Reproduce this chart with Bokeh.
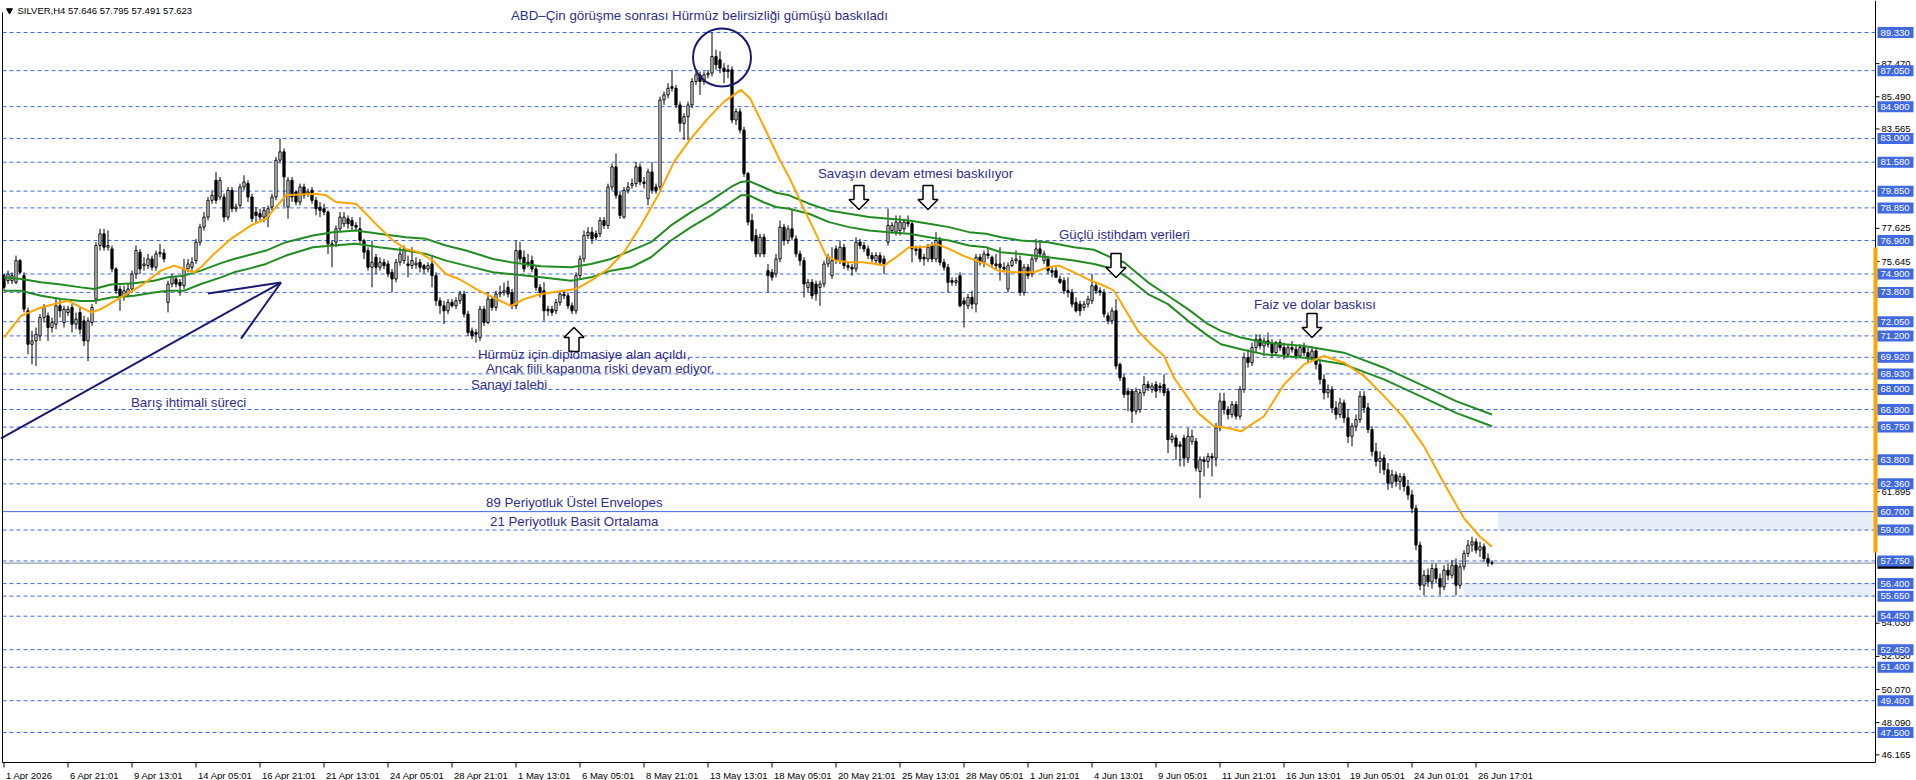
from bokeh.plotting import figure
from bokeh.models import Range1d
from bokeh.core.properties import value
from bokeh.embed import file_html
from bokeh.resources import INLINE

# ---------------- data ----------------
opens = [
 74.8, 74.5, 74.5, 74.4, 75.7, 74.8, 72.7, 70.7, 70.9, 71.2,
 72.3, 72.4, 71.7, 71.9, 73.0, 72.0, 72.6, 72.9, 71.9, 72.6,
 72.1, 70.9, 72.0, 73.4, 76.6, 77.3, 76.5, 76.4, 75.2, 74.0,
 73.6, 73.7, 74.0, 74.9, 76.2, 75.4, 75.4, 75.8, 75.3, 76.1,
 76.15, 73.2, 74.3, 74.6, 74.4, 74.2, 75.2, 75.3, 75.7, 76.8,
 77.7, 78.3, 79.3, 80.5, 79.5, 79.5, 78.3, 79.9, 78.8, 79.0,
 80.1, 80.3, 79.5, 78.6, 78.5, 78.3, 78.3, 78.9, 79.5, 81.7,
 82.2, 78.9, 80.5, 79.8, 79.2, 80.1, 79.7, 79.9, 79.3, 78.9,
 78.8, 78.6, 76.7, 76.8, 77.6, 77.9, 78.2, 78.1, 77.8, 77.6,
 76.9, 76.3, 75.3, 75.9, 75.3, 75.6, 75.5, 75.0, 74.6, 75.6,
 75.7, 75.5, 75.4, 75.45, 75.6, 75.4, 75.2, 75.5, 74.8, 73.3,
 73.0, 72.7, 73.2, 73.0, 73.3, 73.7, 72.5, 71.5, 71.4, 71.1,
 72.8, 72.0, 73.4, 72.9, 73.7, 73.8, 74.1, 73.8, 73.0, 76.3,
 75.9, 75.6, 75.7, 75.2, 74.1, 73.9, 72.8, 72.8, 72.7, 73.2,
 73.7, 73.6, 73.0, 72.7, 74.8, 75.8, 77.2, 77.4, 77.3, 77.3,
 78.1, 77.8, 80.1, 81.3, 79.6, 78.3, 79.9, 80.2, 80.3, 81.3,
 80.4, 79.4, 81.0, 80.1, 80.1, 85.3, 85.6, 86.1, 86.0, 85.0,
 83.9, 84.3, 85.0, 86.4, 86.8, 86.4, 86.8, 86.9, 87.9, 87.7,
 87.2, 87.1, 87.1, 84.1, 84.6, 83.5, 80.9, 78.1, 77.2, 76.1,
 77.1, 75.1, 75.0, 74.9, 75.8, 77.7, 76.9, 77.6, 77.0, 76.1,
 75.7, 74.1, 74.4, 74.3, 74.1, 74.3, 75.5, 74.8, 76.4, 75.7,
 76.5, 75.4, 75.3, 75.2, 76.8, 76.6, 76.4, 76.0, 75.7, 76.0,
 75.8, 76.8, 77.5, 77.4, 77.5, 77.6, 78.0, 77.9, 76.4, 76.4,
 75.9, 75.8, 76.6, 75.8, 76.9, 75.6, 75.3, 74.5, 74.4, 74.8,
 73.3, 73.0, 73.5, 73.1, 75.9, 75.6, 76.1, 75.9, 75.5, 75.5,
 75.3, 74.0, 75.4, 75.7, 75.7, 73.8, 75.3, 74.9, 75.8, 76.4,
 75.7, 75.8, 75.1, 75.1, 74.6, 74.5, 73.9, 73.8, 73.2, 73.1,
 72.9, 73.1, 73.3, 74.2, 73.9, 73.8, 72.4, 72.1, 72.7, 69.5,
 68.7, 67.9, 67.9, 66.7, 66.8, 67.8, 68.3, 68.0, 68.3, 68.2,
 68.3, 67.9, 65.0, 65.1, 64.7, 65.1, 63.9, 64.9, 64.9, 63.1,
 63.8, 63.7, 64.0, 63.9, 65.7, 67.3, 66.8, 66.5, 67.1, 66.4,
 68.0, 69.9, 69.6, 70.5, 71.0, 70.6, 70.9, 70.7, 70.2, 70.8,
 70.5, 70.1, 70.5, 70.4, 70.0, 70.5, 70.2, 69.9, 70.3, 69.5,
 68.6, 67.8, 68.0, 66.9, 66.5, 67.2, 66.3, 65.2, 65.8, 66.2,
 67.6, 66.9, 65.6, 64.3, 63.7, 63.9, 63.2, 62.4, 62.9, 62.5,
 62.8, 62.2, 61.7, 60.9, 58.7, 56.3, 56.9, 56.5, 57.3, 56.7,
 56.2, 57.2, 56.9, 57.5, 56.3, 57.4, 58.2, 58.7, 58.9, 58.4,
 58.6, 57.9, 57.646]
highs = [
 74.9, 75.1, 75.0, 76.0, 75.8, 75.0, 72.9, 71.5, 71.7, 72.5,
 73.1, 72.6, 72.3, 73.5, 73.4, 73.0, 73.0, 73.1, 72.6, 72.9,
 72.4, 72.3, 73.1, 76.8, 77.6, 77.6, 77.5, 76.6, 75.3, 74.2,
 74.2, 74.3, 75.1, 76.6, 76.4, 75.9, 76.1, 76.0, 76.3, 76.7,
 76.4, 74.5, 74.9, 74.8, 74.6, 75.8, 75.8, 75.9, 77.0, 77.9,
 78.6, 79.5, 79.9, 81.0, 80.7, 79.7, 80.1, 80.1, 79.1, 80.3,
 80.8, 80.5, 79.7, 78.9, 78.8, 78.9, 79.0, 79.7, 81.9, 83.0,
 82.4, 80.7, 80.7, 79.9, 80.3, 80.3, 80.0, 80.1, 79.5, 79.2,
 79.1, 78.7, 76.9, 77.8, 78.6, 78.6, 78.4, 78.3, 78.0, 78.3,
 77.0, 76.5, 76.9, 76.1, 75.9, 75.8, 75.7, 75.2, 75.8, 76.5,
 76.6, 76.0, 76.5, 75.9, 75.8, 75.5, 75.6, 76.0, 75.0, 73.5,
 73.3, 73.4, 73.4, 73.5, 73.9, 73.9, 72.7, 71.7, 71.6, 73.0,
 73.0, 73.8, 73.6, 73.9, 74.2, 74.4, 74.5, 74.0, 76.9, 76.8,
 76.3, 76.1, 76.0, 75.4, 74.3, 74.4, 73.0, 73.0, 73.4, 73.9,
 73.9, 73.8, 73.2, 75.0, 76.0, 77.5, 77.7, 77.7, 77.5, 78.3,
 78.3, 80.3, 81.5, 82.1, 79.8, 80.1, 80.4, 80.6, 81.6, 81.5,
 80.7, 81.2, 81.6, 80.3, 85.5, 85.8, 86.3, 87.1, 86.2, 85.2,
 84.5, 85.2, 86.6, 87.1, 87.0, 87.0, 87.1, 89.33, 88.3, 88.2,
 87.5, 87.4, 87.3, 84.8, 84.8, 83.7, 81.0, 78.5, 77.6, 77.3,
 77.3, 75.5, 75.2, 76.1, 78.1, 77.9, 77.8, 78.8, 77.2, 76.3,
 75.9, 74.6, 74.6, 74.5, 74.5, 75.7, 76.1, 76.5, 76.6, 76.9,
 76.7, 75.6, 75.5, 77.1, 77.0, 76.8, 76.6, 76.2, 76.2, 76.2,
 76.0, 78.8, 78.0, 78.4, 78.4, 78.2, 78.4, 78.1, 76.6, 76.6,
 76.1, 76.7, 76.8, 77.4, 77.1, 75.8, 75.5, 74.7, 74.7, 75.0,
 73.5, 73.7, 73.9, 76.1, 76.1, 76.3, 76.5, 76.0, 76.1, 76.5,
 75.6, 75.6, 75.9, 76.3, 76.0, 75.5, 75.5, 76.0, 77.0, 76.9,
 76.3, 76.0, 75.3, 75.3, 74.8, 74.7, 74.7, 74.0, 73.5, 73.3,
 73.3, 73.6, 74.9, 74.4, 74.1, 74.0, 72.6, 72.9, 73.4, 69.6,
 68.9, 68.1, 68.0, 68.1, 68.0, 68.8, 68.5, 68.4, 68.5, 68.4,
 68.9, 68.1, 65.4, 65.3, 64.9, 65.3, 65.7, 65.6, 65.1, 64.0,
 64.0, 64.2, 64.2, 66.0, 67.8, 67.8, 67.0, 67.3, 67.3, 68.2,
 70.2, 70.4, 70.8, 71.3, 71.3, 71.1, 71.4, 71.0, 70.9, 71.0,
 70.8, 70.7, 70.9, 70.6, 70.7, 70.8, 70.5, 70.6, 70.5, 69.8,
 68.9, 68.3, 68.2, 67.3, 67.5, 67.4, 66.8, 66.0, 66.5, 67.9,
 67.9, 67.2, 65.8, 64.8, 64.3, 64.1, 63.6, 63.2, 63.1, 63.0,
 63.0, 62.6, 62.0, 61.1, 58.9, 57.2, 57.3, 57.6, 57.6, 57.0,
 57.5, 57.6, 57.8, 57.9, 57.6, 58.4, 59.0, 59.2, 59.1, 58.9,
 58.8, 58.2, 57.795]
lows = [
 73.9, 74.3, 74.3, 74.3, 74.9, 72.6, 70.1, 69.5, 69.4, 70.9,
 72.0, 70.9, 71.4, 71.6, 72.3, 71.7, 72.4, 71.4, 71.6, 71.3,
 70.6, 69.7, 71.8, 73.1, 76.3, 76.3, 76.3, 75.0, 73.7, 72.7,
 73.3, 73.5, 73.8, 74.6, 74.9, 75.1, 75.2, 75.1, 75.1, 75.9,
 75.6, 72.6, 74.1, 74.1, 73.6, 74.0, 75.0, 75.1, 75.5, 76.6,
 77.5, 78.1, 79.1, 79.1, 79.3, 78.0, 78.1, 78.6, 78.6, 78.8,
 79.9, 79.2, 78.0, 77.9, 78.1, 78.0, 77.7, 78.7, 79.3, 81.5,
 78.9, 78.2, 79.2, 79.0, 79.0, 79.4, 79.5, 79.1, 78.4, 78.3,
 78.4, 76.1, 75.3, 76.5, 77.4, 77.7, 77.6, 77.5, 77.5, 76.7,
 75.8, 75.1, 74.1, 74.9, 75.1, 75.2, 74.7, 73.8, 74.4, 75.4,
 75.5, 74.7, 75.2, 75.2, 75.0, 74.9, 75.0, 74.1, 73.0, 72.5,
 71.9, 72.5, 72.9, 72.8, 73.1, 72.3, 71.2, 71.0, 70.8, 70.9,
 71.8, 71.9, 72.7, 72.7, 73.5, 73.6, 73.5, 72.8, 72.8, 75.6,
 75.0, 75.3, 75.0, 73.9, 73.5, 72.1, 72.4, 72.4, 72.5, 73.0,
 73.4, 72.8, 72.5, 72.5, 74.6, 75.6, 77.0, 76.7, 76.9, 77.1,
 77.6, 77.6, 79.9, 79.4, 78.2, 78.2, 79.7, 80.0, 80.1, 80.2,
 80.0, 79.0, 79.7, 79.7, 79.9, 85.0, 85.4, 85.8, 84.8, 83.4,
 82.9, 82.9, 84.8, 86.2, 85.6, 86.2, 86.6, 86.7, 87.1, 86.9,
 86.3, 86.6, 83.9, 83.8, 83.3, 80.7, 77.8, 76.8, 75.9, 75.9,
 75.9, 73.8, 74.5, 74.7, 75.6, 76.6, 76.7, 76.9, 75.9, 75.4,
 73.5, 73.8, 73.4, 73.3, 73.0, 74.1, 75.3, 74.6, 75.5, 75.5,
 75.2, 75.1, 74.8, 75.0, 76.4, 76.2, 75.8, 75.6, 75.5, 75.4,
 74.9, 76.6, 77.3, 77.2, 77.2, 77.4, 77.7, 75.6, 76.0, 75.6,
 75.4, 75.6, 75.6, 75.6, 75.4, 75.1, 73.8, 74.2, 74.2, 72.9,
 71.7, 72.8, 72.8, 72.6, 75.4, 75.3, 75.8, 75.3, 75.2, 74.5,
 75.0, 73.8, 75.3, 75.5, 73.6, 73.6, 74.6, 74.7, 75.6, 75.9,
 75.5, 74.9, 74.7, 74.7, 74.3, 73.7, 73.5, 72.9, 72.6, 72.4,
 72.7, 72.9, 73.1, 73.7, 73.6, 72.3, 71.9, 71.9, 69.2, 68.5,
 67.5, 66.7, 66.0, 66.5, 66.6, 67.6, 67.9, 67.8, 67.5, 67.8,
 67.6, 64.2, 64.8, 63.8, 63.4, 63.4, 63.6, 64.7, 63.1, 61.5,
 62.8, 63.3, 62.8, 63.4, 65.5, 66.5, 66.2, 66.3, 66.2, 66.2,
 67.8, 69.3, 69.4, 70.2, 70.4, 70.0, 70.5, 69.9, 70.0, 70.3,
 69.8, 69.9, 70.2, 69.8, 69.9, 70.0, 69.6, 69.7, 69.2, 68.3,
 67.4, 67.5, 66.6, 66.2, 66.3, 66.0, 64.8, 64.6, 65.5, 66.0,
 66.6, 65.4, 64.0, 63.4, 63.0, 62.9, 62.0, 62.1, 62.2, 62.0,
 61.9, 61.4, 60.6, 58.4, 56.0, 55.7, 56.2, 56.1, 56.4, 55.7,
 56.0, 56.6, 56.7, 55.7, 56.1, 57.2, 58.0, 58.3, 58.2, 58.0,
 57.7, 57.4, 57.491]
closes = [
 74.1, 74.9, 74.8, 75.7, 75.0, 72.8, 70.7, 70.9, 71.3, 72.3,
 72.9, 71.7, 72.0, 73.0, 72.7, 72.8, 72.8, 71.9, 72.2, 71.6,
 70.9, 72.1, 72.9, 76.6, 77.3, 76.5, 76.6, 75.2, 73.9, 73.6,
 73.9, 74.0, 74.9, 76.3, 75.2, 75.5, 75.8, 75.3, 76.1, 76.2,
 75.8, 74.3, 74.7, 74.3, 74.2, 75.2, 75.5, 75.6, 76.8, 77.7,
 78.3, 79.3, 79.6, 79.3, 80.5, 78.3, 79.9, 78.8, 78.9, 80.1,
 80.4, 79.5, 78.2, 78.4, 78.3, 78.7, 78.8, 79.5, 81.7, 82.2,
 80.7, 80.5, 79.5, 79.2, 80.1, 79.6, 79.8, 79.3, 78.8, 78.7,
 78.6, 76.7, 76.6, 77.6, 78.3, 78.3, 77.9, 77.8, 77.7, 76.9,
 76.2, 75.3, 75.6, 75.3, 75.6, 75.4, 74.9, 74.6, 75.6, 76.1,
 76.4, 75.4, 75.7, 75.55, 75.3, 75.2, 75.4, 74.8, 73.3, 73.0,
 72.7, 73.2, 73.0, 73.3, 73.7, 72.5, 71.4, 71.2, 71.3, 72.8,
 72.0, 73.4, 72.9, 73.7, 73.8, 73.9, 73.7, 73.0, 76.3, 75.8,
 75.2, 75.5, 75.2, 74.1, 73.8, 72.7, 72.7, 72.6, 73.2, 73.7,
 73.6, 73.0, 72.7, 74.8, 75.8, 77.2, 77.4, 77.0, 77.1, 78.1,
 77.8, 80.1, 81.3, 79.6, 78.4, 79.9, 80.1, 80.3, 81.3, 80.4,
 80.3, 81.0, 79.9, 79.9, 85.3, 85.6, 86.0, 86.0, 85.0, 83.9,
 84.3, 85.0, 86.4, 86.8, 86.4, 86.8, 86.9, 87.9, 87.4, 87.2,
 87.0, 87.0, 84.1, 84.6, 83.5, 80.9, 78.0, 76.9, 76.1, 77.1,
 76.1, 74.8, 74.7, 75.8, 77.7, 76.9, 77.6, 77.1, 76.1, 75.7,
 74.3, 74.4, 73.6, 73.7, 74.3, 75.5, 75.9, 75.7, 75.7, 76.5,
 75.4, 75.3, 75.2, 76.8, 76.6, 76.4, 76.0, 75.8, 76.0, 75.6,
 75.5, 77.8, 77.8, 78.0, 78.0, 78.0, 77.9, 76.4, 76.3, 75.8,
 75.8, 76.5, 75.8, 76.9, 75.6, 75.3, 74.4, 74.4, 74.5, 73.0,
 73.1, 73.5, 73.1, 75.9, 75.6, 76.1, 76.0, 75.5, 75.4, 75.3,
 75.2, 75.4, 75.7, 75.8, 73.8, 75.3, 74.8, 75.8, 76.4, 76.1,
 76.1, 75.1, 75.0, 74.7, 74.4, 73.9, 73.8, 73.1, 72.7, 72.7,
 73.1, 73.4, 74.2, 73.9, 73.8, 72.5, 72.1, 72.7, 69.4, 68.7,
 67.7, 67.7, 66.7, 67.9, 67.8, 68.3, 68.1, 68.2, 67.9, 68.1,
 67.8, 65.0, 65.2, 64.6, 64.6, 63.9, 65.2, 65.2, 63.3, 63.8,
 63.7, 64.0, 63.9, 65.7, 67.3, 66.8, 66.5, 67.1, 66.4, 68.0,
 69.9, 69.6, 70.5, 71.0, 70.6, 70.9, 70.7, 70.2, 70.8, 70.5,
 70.1, 70.5, 70.4, 70.0, 70.5, 70.2, 69.9, 70.3, 69.5, 68.6,
 67.8, 68.0, 66.9, 66.5, 67.2, 66.3, 65.2, 65.8, 66.2, 67.6,
 66.9, 65.6, 64.3, 63.7, 63.9, 63.2, 62.4, 62.9, 62.5, 62.8,
 62.2, 61.7, 60.9, 58.7, 56.3, 56.9, 56.5, 57.3, 56.7, 56.2,
 57.2, 56.9, 57.5, 56.3, 57.4, 58.2, 58.7, 58.9, 58.4, 58.6,
 57.9, 57.65, 57.623]

# 21-period simple moving average (orange), sampled along the bars
sma_bars = [0, 4.25, 9.25, 14.25, 16, 19.25, 21.75, 24.25, 29.25, 34.25, 39.25, 42.5, 47.5, 49.25,
            52.5, 56.75, 61.75, 65.5, 68, 70.5, 78, 80.5, 83, 88, 90.5, 93.75, 97.25, 100.5, 103.75,
            107.25, 110.5, 113.75, 118.75, 122.25, 126.75, 130, 134.25, 138.5, 143, 146.75, 151, 155,
            159.25, 163.5, 167.5, 171.75, 176, 180, 184.25, 186.5, 190, 193.75, 196.25, 199.75, 203,
            205.5, 208, 211.25, 214.75, 218, 220, 223, 226.25, 229.75, 233, 236.25, 239.75, 243, 245.5,
            248.5, 252.5, 257.5, 261, 263.75, 267.5, 271.75, 275, 277.5, 280, 283.5, 286.75, 290, 292.5,
            296, 298.5, 302.5, 306, 309.25, 315, 320, 325, 330, 335, 340, 345, 350, 355, 360, 365, 369, 372]
sma_vals = [71.1, 72.4, 72.9, 73.2, 73.3, 72.9, 72.6, 72.8, 73.5, 74.2, 75.1, 75.4, 75.0, 75.3,
            76.1, 77.0, 77.8, 78.2, 78.9, 79.6, 79.7, 79.6, 79.2, 79.1, 78.5, 77.7, 76.9, 76.4, 76.2,
            75.7, 74.9, 74.6, 73.9, 73.5, 73.0, 73.4, 73.7, 73.85, 74.0, 74.5, 75.2, 76.2,
            77.8, 79.6, 81.6, 83.0, 84.2, 85.2, 85.9, 85.4, 83.7, 81.8, 80.7, 78.9, 77.3,
            76.0, 75.7, 75.6, 75.6, 75.5, 75.4, 75.9, 76.5, 76.5, 76.7, 76.4, 76.0, 75.7, 75.5,
            75.1, 75.0, 75.0, 75.3, 75.4, 75.0, 74.5, 74.2, 73.9, 72.9, 71.5, 70.7, 70.0, 68.7,
            67.5, 66.6, 65.8, 65.7, 65.5, 66.4, 68.3, 69.5, 70.0, 69.6, 68.8, 67.6, 66.3, 64.6, 62.4, 60.3, 59.2, 58.6]

# 89-period exponential envelopes (green), upper and lower bands
env_up_bars = [0, 4.25, 9.25, 14.25, 19.25, 22.5, 26.75, 32.5, 37.5, 41, 45, 49.25, 54.25, 57.5, 61.75,
               65.5, 70.5, 77.25, 82.25, 88, 93.75, 100.5, 105.5, 110.5, 115.5, 122.25, 126.75, 134.25,
               141.75, 146.75, 151.75, 156.75, 161.75, 166.75, 171.75, 176.75, 181.75, 184.25, 186.25,
               189.75, 193, 196.25, 201.25, 206.25, 211.25, 216.25, 221.25, 226.25, 231.25, 236.25, 241.25,
               245.5, 249.25, 254.25, 261, 267.5, 272.5, 277.5, 280, 286, 291, 296, 301, 304.25, 309.25,
               315, 325, 335, 345, 355, 363, 372]
env_up_vals = [74.7, 74.6, 74.4, 74.27, 74.1, 74.0, 74.27, 74.35, 74.5, 74.7, 74.8, 75.1, 75.55, 75.8, 76.06,
               76.3, 76.8, 77.2, 77.4, 77.5, 77.3, 77.1, 77.0, 76.6, 76.3, 75.8, 75.6, 75.36,
               75.3, 75.5, 75.8, 76.3, 76.8, 77.8, 78.6, 79.3, 80.1, 80.4, 80.45,
               80.1, 79.75, 79.6, 79.1, 78.7, 78.5, 78.3, 78.2, 78.1, 77.9, 77.7, 77.4,
               77.3, 77.1, 76.9, 76.8, 76.5, 76.35, 75.8, 75.6, 74.4, 73.6, 72.8, 71.9, 71.5, 71.1,
               70.8, 70.6, 70.2, 69.3, 68.2, 67.3, 66.5]
env_lo_bars = [0, 4.25, 9.25, 14.25, 19.25, 22.5, 26.75, 32.5, 37.5, 41, 45, 49.25, 54.25, 57.5, 61.75,
               65.5, 70.5, 77.25, 82.25, 88, 93.75, 100.5, 105.5, 110.5, 115.5, 122.25, 126.75, 134.25,
               141.75, 146.75, 151.75, 156.75, 161.75, 166.75, 171.75, 176.75, 181.75, 184.25, 186.25,
               189.75, 193, 196.25, 201.25, 206.25, 211.25, 216.25, 221.25, 226.25, 231.25, 236.25, 241.25,
               245.5, 249.25, 254.25, 261, 267.5, 272.5, 277.5, 280.75, 286, 291, 296, 301, 304.25, 309.25,
               315, 325, 335, 345, 355, 363, 372]
env_lo_vals = [73.9, 73.9, 73.6, 73.4, 73.28, 73.28, 73.5, 73.6, 73.8, 73.9, 73.9, 74.3, 74.7, 75.0, 75.25,
               75.5, 76.0, 76.5, 76.6, 76.7, 76.5, 76.3, 76.1, 75.7, 75.4, 75.0, 74.9, 74.7,
               74.5, 74.7, 75.1, 75.3, 75.9, 76.9, 77.7, 78.4, 79.2, 79.6, 79.6,
               79.2, 78.9, 78.8, 78.5, 78.0, 77.7, 77.5, 77.4, 77.3, 77.1, 76.9, 76.6,
               76.5, 76.2, 76.1, 75.9, 75.7, 75.5, 75.2, 74.7, 73.7, 73.1, 72.1, 71.2, 70.7, 70.4,
               70.1, 69.9, 69.5, 68.6, 67.5, 66.6, 65.8]

# horizontal price levels with their labels on the price scale
level_prices = [89.33, 87.05, 84.90, 83.00, 81.58, 79.85, 78.85, 76.90, 74.90, 73.80, 72.05, 71.20,
                69.92, 68.93, 68.00, 66.80, 65.75, 63.80, 62.36, 60.70, 59.60, 57.75, 56.40, 55.65,
                54.45, 52.45, 51.40, 49.40, 47.50]
level_labels = ["89.330", "87.050", "84.900", "83.000", "81.580", "79.850", "78.850", "76.900", "74.900",
                "73.800", "72.050", "71.200", "69.920", "68.930", "68.000", "66.800", "65.750", "63.800",
                "62.360", "60.700", "59.600", "57.750", "56.400", "55.650", "54.450", "52.450", "51.400",
                "49.400", "47.500"]
solid_level = 60.70
bid_price = 57.623
zone_tops = [60.70, 56.40]
zone_bottoms = [59.60, 55.65]
zone_start_bars = [373.5, 365.0]
range_marker = [76.48, 58.26]

price_ticks = [87.470, 85.490, 83.565, 77.625, 75.645, 61.895, 54.030, 52.050, 50.070, 48.090, 46.165]
price_tick_labels = ["87.470", "85.490", "83.565", "77.625", "75.645", "61.895", "54.030", "52.050",
                     "50.070", "48.090", "46.165"]

time_bars = [16 * k for k in range(24)]
time_labels = ["1 Apr 2026", "6 Apr 21:01", "9 Apr 13:01", "14 Apr 05:01", "16 Apr 21:01", "21 Apr 13:01",
               "24 Apr 05:01", "28 Apr 21:01", "1 May 13:01", "6 May 05:01", "8 May 21:01", "13 May 13:01",
               "18 May 05:01", "20 May 21:01", "25 May 13:01", "28 May 05:01", "1 Jun 21:01", "4 Jun 13:01",
               "9 Jun 05:01", "11 Jun 21:01", "16 Jun 13:01", "19 Jun 05:01", "24 Jun 01:01", "26 Jun 17:01"]

header_text = "SILVER,H4  57.646 57.795 57.491 57.623"

note_texts = ["ABD\u2013Çin görüşme sonrası Hürmüz belirsizliği gümüşü baskıladı",
              "Savaşın devam etmesi baskılıyor",
              "Güçlü istihdam verileri",
              "Faiz ve dolar baskısı",
              "Hürmüz için diplomasiye alan açıldı,",
              "Ancak fiili kapanma riski devam ediyor.",
              "Sanayi talebi",
              "Barış ihtimali süreci",
              "89 Periyotluk Üstel Envelopes",
              "21 Periyotluk Basit Ortalama"]
note_bars = [126.75, 203.5, 263.75, 312.5, 118.5, 120.5, 116.75, 31.75, 120.5, 121.5]
note_vals = [90.35, 80.90, 77.26, 73.10, 70.09, 69.25, 68.29, 67.22, 61.25, 60.11]

arrow_bars = [213.75, 231.0, 278.0, 327.0, 142.5]
arrow_vals = [78.75, 78.75, 74.69, 71.10, 71.70]
arrow_dirs = [1, 1, 1, 1, -1]   # 1 = pointing down, -1 = pointing up

trend_x0 = [-0.75, 51.0, 59.25]
trend_y0 = [65.07, 73.73, 71.04]
trend_x1 = [69.25, 69.25, 69.25]
trend_y1 = [74.39, 74.39, 74.39]

circle_bar = [179.5]
circle_val = [87.84]

# ---------------- geometry of the MT4-like canvas ----------------
W, H = 1916, 780
PX_BAR = 4.0
PX_UNIT = 16.735
REF_PX, REF_VAL = 32.0, 89.33


def bx(px):
    return (px - 3.5) / PX_BAR


def vy(py):
    return REF_VAL - (py - REF_PX) / PX_UNIT


FONT = value("Liberation Sans")
NOTE_COLOR = "#2E2E8A"
LEVEL_BLUE = "#4169E1"

p = figure(width=W, height=H, x_range=Range1d(bx(0), bx(W)), y_range=Range1d(vy(H), vy(0)),
           x_axis_type=None, y_axis_type=None, output_backend="svg", toolbar_location=None,
           min_border=0, background_fill_color="white", border_fill_color="white")
p.outline_line_color = None
p.grid.visible = False

x_left, x_right = bx(2), bx(1875)

# shaded zones at the right side
p.quad(left=zone_start_bars, right=[x_right] * 2, top=zone_tops, bottom=zone_bottoms,
       fill_color="#E8EEF9", line_color=None)

# horizontal levels
dashed = [v for v in level_prices if v != solid_level]
p.segment(x0=[x_left] * len(dashed), x1=[x_right] * len(dashed), y0=dashed, y1=dashed,
          line_color=LEVEL_BLUE, line_width=1, line_dash="4 3")
p.segment(x0=[x_left], x1=[x_right], y0=[solid_level], y1=[solid_level], line_color=LEVEL_BLUE, line_width=1)
p.segment(x0=[x_left], x1=[x_right], y0=[bid_price], y1=[bid_price], line_color="#778899", line_width=1)

# candles
idx = list(range(len(closes)))
p.segment(x0=idx, y0=lows, x1=idx, y1=highs, line_color="black", line_width=1)
up_i = [i for i in idx if closes[i] >= opens[i]]
dn_i = [i for i in idx if closes[i] < opens[i]]
p.vbar(x=up_i, width=0.55, bottom=[opens[i] for i in up_i], top=[closes[i] for i in up_i],
       fill_color="white", line_color="black", line_width=1)
p.vbar(x=dn_i, width=0.55, top=[opens[i] for i in dn_i], bottom=[closes[i] for i in dn_i],
       fill_color="black", line_color="black", line_width=1)

# indicators
p.line(env_up_bars, env_up_vals, line_color="#228B22", line_width=2)
p.line(env_lo_bars, env_lo_vals, line_color="#228B22", line_width=2)
p.line(sma_bars, sma_vals, line_color="#FFA500", line_width=2)

# drawn objects
p.segment(x0=trend_x0, y0=trend_y0, x1=trend_x1, y1=trend_y1, line_color="#191970", line_width=2)
p.scatter(x=circle_bar, y=circle_val, marker="circle", size=58, fill_color=None,
          line_color="#191970", line_width=2)

shape = [(-5, -24), (5, -24), (5, -10), (10, -10), (0, 0), (-10, -10), (-5, -10)]
axs, ays = [], []
for b, v, d in zip(arrow_bars, arrow_vals, arrow_dirs):
    axs.append([b + dx / PX_BAR for dx, dy in shape])
    ays.append([v - d * dy / PX_UNIT for dx, dy in shape])
p.patches(axs, ays, fill_color="white", line_color="black", line_width=1.5)

p.text(x=note_bars, y=note_vals, text=note_texts, text_font=FONT, text_font_size="13.3px",
       text_color=NOTE_COLOR, text_baseline="middle", text_align="left")

# frame lines
p.segment(x0=[bx(2), bx(2), bx(1875)], y0=[vy(12), vy(762), vy(0)],
          x1=[bx(2), bx(1875), bx(1875)], y1=[vy(762), vy(762), vy(762)],
          line_color="black", line_width=1)

# price scale
p.segment(x0=[bx(1875)] * len(price_ticks), x1=[bx(1879)] * len(price_ticks), y0=price_ticks, y1=price_ticks,
          line_color="black", line_width=1)
p.text(x=[bx(1881)] * len(price_ticks), y=price_ticks, text=price_tick_labels, text_font=FONT,
       text_font_size="9.5px", text_color="black", text_baseline="middle", text_align="left")
p.quad(left=[bx(1873)], right=[bx(1877)], top=[range_marker[0]], bottom=[range_marker[1]],
       fill_color="#FFA500", line_color=None)
p.quad(left=[bx(1877)], right=[bx(1913)], top=[bid_price + 0.33], bottom=[bid_price - 0.33],
       fill_color="black", line_color=None)
half = 5.5 / PX_UNIT
p.quad(left=[bx(1877)] * len(level_prices), right=[bx(1913)] * len(level_prices),
       top=[v + half for v in level_prices], bottom=[v - half for v in level_prices],
       fill_color=LEVEL_BLUE, line_color=None)
p.text(x=[bx(1880)] * len(level_prices), y=level_prices, text=level_labels, text_font=FONT,
       text_font_size="9.5px", text_color="white", text_baseline="middle", text_align="left")

# time scale
p.segment(x0=time_bars, x1=time_bars, y0=[vy(762)] * len(time_bars), y1=[vy(767)] * len(time_bars),
          line_color="black", line_width=1)
p.text(x=[b + 0.5 for b in time_bars], y=[vy(775)] * len(time_bars), text=time_labels, text_font=FONT,
       text_font_size="9.5px", text_color="black", text_baseline="middle", text_align="left")

# header
p.scatter(x=[bx(9)], y=[vy(10)], marker="inverted_triangle", size=6, fill_color="black", line_color="black")
p.text(x=[bx(17)], y=[vy(10)], text=[header_text], text_font=FONT, text_font_size="9.5px",
       text_color="black", text_baseline="middle", text_align="left")

open("out.html", "w").write(file_html(p, INLINE))
